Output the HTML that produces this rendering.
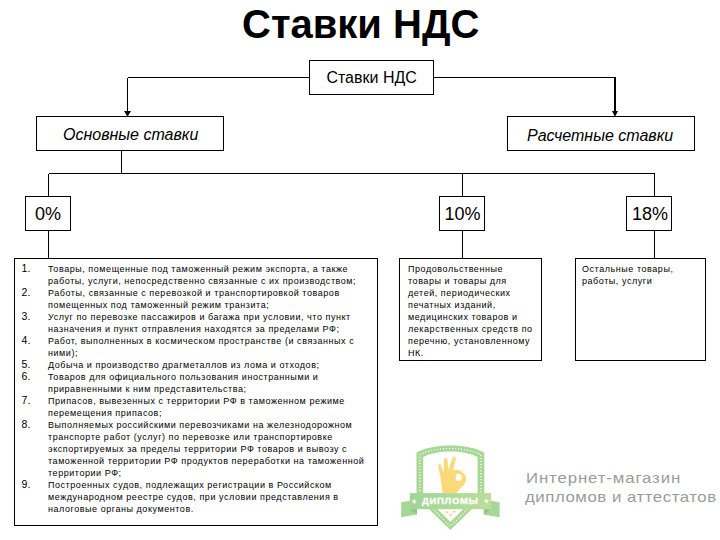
<!DOCTYPE html>
<html><head><meta charset="utf-8">
<style>
html,body{margin:0;padding:0;background:#fff;}
body{width:720px;height:540px;position:relative;overflow:hidden;font-family:"Liberation Sans",sans-serif;color:#000;}
.t{position:absolute;white-space:nowrap;}
#title{left:242px;top:1px;font-size:40px;font-weight:bold;line-height:46px;}
.mid{font-size:16px;line-height:18px;}
.it{font-style:italic;}
.pct{font-size:18px;line-height:20px;}
.list{position:absolute;font-size:9px;letter-spacing:0.55px;line-height:12px;white-space:nowrap;}
.list .n{position:absolute;left:0.6px;top:-0.5px;font-size:10.5px;letter-spacing:0;}
.list>div{position:relative;}
.wm{position:absolute;font-size:15px;line-height:20px;color:#9b9b9b;white-space:nowrap;}
svg{position:absolute;left:0;top:0;}
</style></head><body>
<svg width="720" height="540" viewBox="0 0 720 540">
<g fill="none" stroke="#000" stroke-width="1" shape-rendering="crispEdges">
<!-- boxes -->
<rect x="309.5" y="60.5" width="124" height="34"/>
<rect x="36.5" y="116.5" width="187" height="34"/>
<rect x="507.5" y="116.5" width="187" height="34"/>
<rect x="25.5" y="196.5" width="45" height="34"/>
<rect x="439.5" y="196.5" width="45" height="34"/>
<rect x="626.5" y="196.5" width="45" height="34"/>
<rect x="14.5" y="258.5" width="363" height="267"/>
<rect x="399.5" y="258.5" width="142" height="102"/>
<rect x="575.5" y="258.5" width="130" height="102"/>
<!-- connectors -->
<path d="M127.5 77.5H309 M434 77.5H616 M127.5 77.5V112"/>
<path d="M615 77V112" stroke-width="2"/>
<path d="M121.5 151V173.5 M48.5 173.5H654.5 M48.5 173.5V196 M462.5 173.5V196 M654.5 173.5V196"/>
<path d="M48.5 231V258 M462.5 231V258 M654.5 231V258"/>
</g>
<g fill="#000">
<path d="M124 111H131L127.5 116.8Z"/>
<path d="M612 111H618L615 116.8Z"/>
</g>
</svg>

<div class="t" id="title">Ставки НДС</div>
<div class="t mid" style="left:326.4px;top:69px">Ставки НДС</div>
<div class="t mid it" style="left:63px;top:126px">Основные ставки</div>
<div class="t mid it" style="left:527px;top:127px">Расчетные ставки</div>
<div class="t pct" style="left:35px;top:204px">0%</div>
<div class="t pct" style="left:444.6px;top:204px">10%</div>
<div class="t pct" style="left:632px;top:204px">18%</div>

<div class="list" style="left:21px;top:262.8px;">
<div><span class="n">1.</span><span style="margin-left:27px">Товары, помещенные под таможенный режим экспорта, а также</span></div>
<div style="margin-left:27px">работы, услуги, непосредственно связанные с их производством;</div>
<div><span class="n">2.</span><span style="margin-left:27px">Работы, связанные с перевозкой и транспортировкой товаров</span></div>
<div style="margin-left:27px">помещенных под таможенный режим транзита;</div>
<div><span class="n">3.</span><span style="margin-left:27px">Услуг по перевозке пассажиров и багажа при условии, что пункт</span></div>
<div style="margin-left:27px">назначения и пункт отправления находятся за пределами РФ;</div>
<div><span class="n">4.</span><span style="margin-left:27px">Работ, выполненных в космическом пространстве (и связанных с</span></div>
<div style="margin-left:27px">ними);</div>
<div><span class="n">5.</span><span style="margin-left:27px">Добыча и производство драгметаллов из лома и отходов;</span></div>
<div><span class="n">6.</span><span style="margin-left:27px">Товаров для официального пользования иностранными и</span></div>
<div style="margin-left:27px">приравненными к ним представительства;</div>
<div><span class="n">7.</span><span style="margin-left:27px">Припасов, вывезенных с территории РФ в таможенном режиме</span></div>
<div style="margin-left:27px">перемещения припасов;</div>
<div><span class="n">8.</span><span style="margin-left:27px">Выполняемых российскими перевозчиками на железнодорожном</span></div>
<div style="margin-left:27px">транспорте работ (услуг) по перевозке или транспортировке</div>
<div style="margin-left:27px">экспортируемых за пределы территории РФ товаров и вывозу с</div>
<div style="margin-left:27px">таможенной территории РФ продуктов переработки на таможенной</div>
<div style="margin-left:27px">территории РФ;</div>
<div><span class="n">9.</span><span style="margin-left:27px">Построенных судов, подлежащих регистрации в Российском</span></div>
<div style="margin-left:27px">международном реестре судов, при условии представления в</div>
<div style="margin-left:27px">налоговые органы документов.</div>
</div>

<div class="list" style="left:408px;top:262.8px;">
<div>Продовольственные</div>
<div>товары и товары для</div>
<div>детей, периодических</div>
<div>печатных изданий,</div>
<div>медицинских товаров и</div>
<div>лекарственных средств по</div>
<div>перечню, установленному</div>
<div>НК.</div>
</div>

<div class="list" style="left:582px;top:262.8px;">
<div>Остальные товары,</div>
<div>работы, услуги</div>
</div>

<!-- watermark -->
<svg width="720" height="540" viewBox="0 0 720 540">
<defs>
<linearGradient id="rb" x1="0" x2="1" y1="0" y2="0"><stop offset="0" stop-color="#a1d595"/><stop offset="1" stop-color="#bcde9b"/></linearGradient>
</defs>
<!-- shield -->
<path d="M416.5,452.5 C425,448 438,445.5 450.4,445.5 C463,445.5 476,448 484.3,452.5 L484.3,497 L450.4,530 L416.5,497 Z" fill="#a7d894"/>
<path d="M423.2,456.9 C430,453.5 440,451.5 450.4,451.5 C461,451.5 471,453.5 477.6,456.9 L477.6,494.8 L450.4,522 L423.2,494.8 Z" fill="#fff"/>
<path d="M419.9,454.7 C427.5,450.7 439,448.5 450.4,448.5 C462,448.5 473.5,450.7 480.9,454.7 L480.9,496 L450.4,526.2 L419.9,496 Z" fill="none" stroke="#fff" stroke-width="1.2" stroke-dasharray="1.2 1.8"/>
<!-- hand -->
<path d="M442.6,493 L440.3,476 L437.9,465.6 Q438.6,463.4 440.6,464.6 L443.7,473.2 L443.9,459.2 Q445.6,456.9 447.4,459 L448.4,469.6 L452.6,458 Q454.3,455.6 455.9,458 L453,470.6 Q457,468.6 461.5,471.5 Q466.8,475.6 466,480 Q464.5,485.5 460.5,488 L456.6,493 Z" fill="#fbd878"/>
<ellipse cx="458.6" cy="477.4" rx="3.1" ry="3.6" fill="#fff"/>
<!-- ribbon tails -->
<polygon points="401.2,502.2 410,500.7 417,509 417,514.4 401.2,517.3" fill="#a5d797"/>
<polygon points="499.6,502.2 490.8,500.7 483.8,509 483.8,514.4 499.6,517.3" fill="#a5d797"/>
<polygon points="410,509.2 417,509.2 417,514.4" fill="#8fc683"/>
<polygon points="490.8,509.2 483.8,509.2 483.8,514.4" fill="#8fc683"/>
<rect x="409.9" y="493.1" width="81.1" height="16.1" fill="url(#rb)"/>
<polygon points="414.2,498.6 414.9,500.4 416.9,500.5 415.4,501.8 415.8,503.7 414.2,502.7 412.6,503.7 413.0,501.8 411.5,500.5 413.5,500.4" fill="#fff"/>
<polygon points="486.4,498.2 487.1,500.0 489.1,500.1 487.6,501.4 488.0,503.3 486.4,502.3 484.8,503.3 485.2,501.4 483.7,500.1 485.7,500.0" fill="#fff"/>
<g fill="#f7cf5e">
<polygon points="447.0,510.5 447.4,511.6 448.6,511.7 447.7,512.4 448.0,513.6 447.0,513.0 446.0,513.6 446.3,512.4 445.4,511.7 446.6,511.6"/>
<polygon points="454.2,510.0 454.6,511.1 455.8,511.2 454.9,511.9 455.2,513.1 454.2,512.5 453.2,513.1 453.5,511.9 452.6,511.2 453.8,511.1"/>
<polygon points="450.7,513.2 451.1,514.3 452.3,514.4 451.4,515.1 451.7,516.3 450.7,515.7 449.7,516.3 450.0,515.1 449.1,514.4 450.3,514.3"/>
</g>
</svg>
<div class="t" style="left:422px;top:496px;font-size:9.5px;line-height:10px;font-weight:bold;letter-spacing:0.7px;color:#fff;-webkit-text-stroke:0.3px #fff">ДИПЛОМЫ</div>
<div class="wm" style="left:526px;top:468px;letter-spacing:0.78px;transform:scaleX(1.12);transform-origin:0 0">Интернет-магазин</div>
<div class="wm" style="left:525px;top:487px;letter-spacing:0.48px;transform:scaleX(1.12);transform-origin:0 0">дипломов и аттестатов</div>
</body></html>
